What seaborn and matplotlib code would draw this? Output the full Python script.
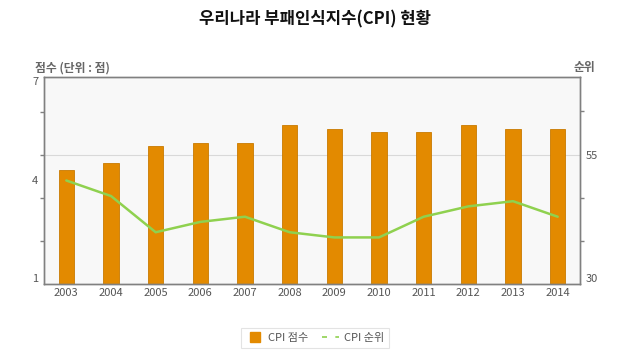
import numpy as np
import pandas as pd
import matplotlib
matplotlib.use("Agg")
import matplotlib.pyplot as plt
import seaborn as sns
from matplotlib.lines import Line2D

years = ["2003", "2004", "2005", "2006", "2007", "2008", "2009", "2010", "2011", "2012", "2013", "2014"]
cpi_score = [4.3, 4.5, 5.0, 5.1, 5.1, 5.6, 5.5, 5.4, 5.4, 5.6, 5.5, 5.5]
cpi_rank = [50, 47, 40, 42, 43, 40, 39, 39, 43, 45, 46, 43]
left_ticks = [1, 4, 7]
right_ticks = [30, 55]

sns.set_theme(style="white")
plt.rcParams['font.family'] = ['Noto Sans CJK KR', 'DejaVu Sans']

df = pd.DataFrame({"year": years, "score": cpi_score, "rank": cpi_rank})
df["pos"] = np.arange(len(df))

fig = plt.figure(figsize=(6.3, 3.6), dpi=100)
ax = fig.add_axes([44/630, 1-284/360, (580-44)/630, (284-77)/360])
ax.set_facecolor("#F8F8F8")

bar_color = "#E38A00"
line_color = "#8FD14F"
grey = "#555555"

sns.barplot(data=df, x="year", y="score", ax=ax, color=bar_color, width=0.34,
            edgecolor="#C97A00", linewidth=0.6, saturation=1)
ax.set_ylim(1, 7)
ax.set_xlim(-0.5, len(years) - 0.5)
ax.set_yticks(left_ticks)
ax.set_yticklabels([str(t) for t in left_ticks])
ax.set_xlabel("")
ax.set_ylabel("")

ax2 = ax.twinx()
ax2.set_ylim(30, 70)
ax.axhline(1 + (55 - 30) / 40 * 6, color="#D9D9D9", lw=0.8, zorder=0)
sns.lineplot(data=df, x="pos", y="rank", ax=ax2, color=line_color, lw=1.8)
ax2.set_yticks(right_ticks)
ax2.set_yticklabels([str(t) for t in right_ticks])
ax2.set_xlabel("")
ax2.set_ylabel("")
ax2.set_xlim(-0.5, len(years) - 0.5)

minor_r = [30 + 25/3, 30 + 50/3, 55, 30 + 100/3]
ax2.set_yticks(minor_r, minor=True)
ax.set_yticks([1 + (v - 30) / 40 * 6 for v in minor_r], minor=True)

for a in (ax, ax2):
    for s in a.spines.values():
        s.set_color("#808080")
        s.set_linewidth(1.0)
    a.tick_params(axis="both", which="major", labelsize=8, labelcolor=grey, length=0, pad=4)
    a.tick_params(axis="y", which="minor", length=3, color="#808080", direction="out")
ax.tick_params(axis="x", length=0, pad=3)

fig.canvas.draw()
ylabs = ax.get_yticklabels()
ylabs[0].set_va("bottom")
ylabs[-1].set_va("top")
ax2.get_yticklabels()[0].set_va("bottom")

fig.text(315/630, 1-19/360, "우리나라 부패인식지수(CPI) 현황", ha="center", va="center",
         fontsize=12, fontweight="bold", color="#111111")
fig.text(35/630, 1-68/360, "점수 (단위 : 점)", ha="left", va="center",
         fontsize=8.5, fontweight="bold", color="#666666")
fig.text(595/630, 1-68/360, "순위", ha="right", va="center",
         fontsize=8.5, fontweight="bold", color="#666666")

handles = [Line2D([0], [0], marker="s", ls="", markersize=7,
                  markerfacecolor=bar_color, markeredgecolor=bar_color),
           Line2D([0], [0], color=line_color, lw=1.2, ls=(0, (3, 5)))]
leg = fig.legend(handles, ["CPI 점수", "CPI 순위"], loc="center", ncol=2,
                 bbox_to_anchor=(315/630, 1-338/360), frameon=True, fontsize=8,
                 handlelength=1.6, handleheight=0.9, columnspacing=1.2, handletextpad=0.4,
                 borderpad=0.45, fancybox=False)
leg.get_frame().set_edgecolor("#DDDDDD")
leg.get_frame().set_linewidth(0.8)
for t in leg.get_texts():
    t.set_color(grey)

fig.savefig("out.png", dpi=100)
